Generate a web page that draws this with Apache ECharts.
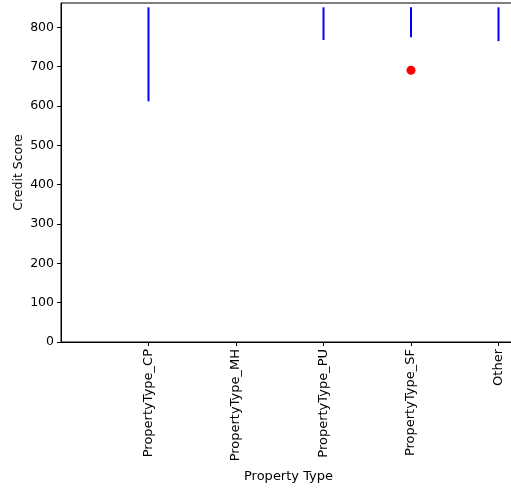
<!DOCTYPE html>
<html>
<head>
<meta charset="utf-8">
<script src="https://cdn.jsdelivr.net/npm/echarts@6/dist/echarts.min.js"></script>
<style>
  html, body { margin: 0; padding: 0; background: #fff; }
  #chart { width: 511px; height: 489px; }
</style>
</head>
<body>
<div id="chart"></div>
<script>
// categories on the x axis (placed at 1..5)
const categories = ['PropertyType_CP', 'PropertyType_MH', 'PropertyType_PU', 'PropertyType_SF', 'Other']
// whisker ends (low / high) per category, null = nothing drawn
const rangeLow = [612, null, 768, 775, 765]
const rangeHigh = [851, null, 851, 851, 851]
// outlier points [categoryIndex, score]
const outliers = [[3, 691]]
const yTicks = [0, 100, 200, 300, 400, 500, 600, 700, 800]

const segData = []
categories.forEach((c, i) => {
  if (rangeLow[i] != null) segData.push([i + 1, rangeLow[i], rangeHigh[i]])
})
const dotData = outliers.map(o => [o[0] + 1, o[1]])

const font = 'DejaVu Sans'
let myChart = echarts.init(document.getElementById('chart'))
myChart.setOption({
  animation: false,
  grid: {
    left: 61, top: 3, width: 455, height: 339,
    outerBoundsMode: 'none',
    containLabel: false,
    show: true, borderColor: '#000', borderWidth: 1
  },
  xAxis: {
    type: 'value',
    min: 0,
    max: 5.2,
    interval: 1,
    name: 'Property Type',
    nameLocation: 'middle',
    nameGap: 128,
    nameMoveOverlap: false,
    nameTextStyle: { color: '#000', fontSize: 13, fontFamily: font },
    splitLine: { show: false },
    axisLine: { lineStyle: { color: '#000', width: 1 } },
    axisTick: { show: true, length: 4, inside: false, customValues: [1, 2, 3, 4, 5], lineStyle: { color: '#000' } },
    axisLabel: {
      customValues: [1, 2, 3, 4, 5],
      rotate: 90,
      margin: 7,
      color: '#000',
      fontSize: 13,
      fontFamily: font,
      formatter: function (value) {
        return categories[Math.round(value) - 1] || ''
      }
    }
  },
  yAxis: {
    type: 'value',
    min: 0,
    max: 862,
    name: 'Credit Score',
    nameLocation: 'middle',
    nameGap: 36,
    nameMoveOverlap: false,
    nameTextStyle: { color: '#000', fontSize: 12.5, fontFamily: font },
    splitLine: { show: false },
    axisLine: { show: true, lineStyle: { color: '#000', width: 1 } },
    axisTick: { show: true, length: 4, customValues: yTicks, lineStyle: { color: '#000' } },
    axisLabel: { customValues: yTicks, margin: 7, color: '#000', fontSize: 12.5, fontFamily: font }
  },
  series: [
    {
      type: 'custom',
      data: segData,
      encode: { x: 0, y: [1, 2] },
      renderItem: function (params, api) {
        const p1 = api.coord([api.value(0), api.value(1)])
        const p2 = api.coord([api.value(0), api.value(2)])
        return {
          type: 'line',
          shape: { x1: p1[0], y1: p1[1], x2: p2[0], y2: p2[1] },
          style: { stroke: '#0000ff', lineWidth: 2 }
        }
      }
    },
    {
      type: 'scatter',
      data: dotData,
      symbolSize: 9,
      itemStyle: { color: '#ff0000', opacity: 1 }
    }
  ]
})
</script>
</body>
</html>
